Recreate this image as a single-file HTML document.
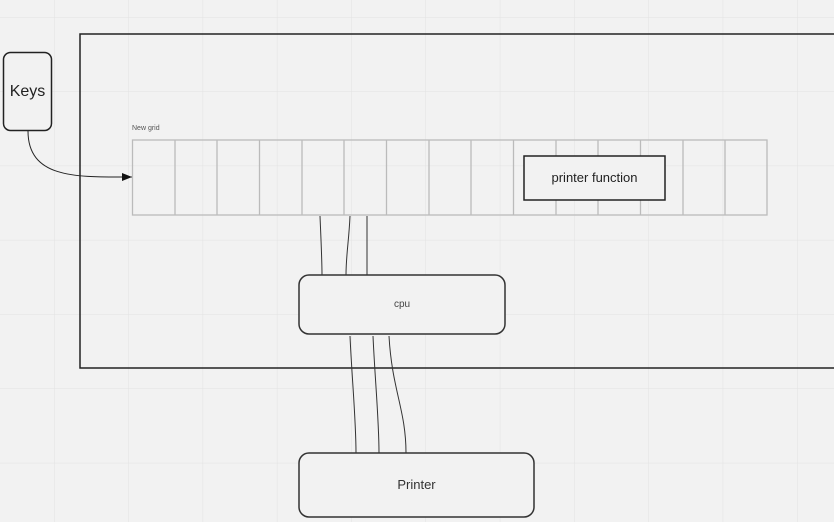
<!DOCTYPE html>
<html><head><style>
body{margin:0;width:834px;height:522px;overflow:hidden;background:#f2f2f2;font-family:"Liberation Sans",sans-serif}
</style></head><body>
<svg width="834" height="522" xmlns="http://www.w3.org/2000/svg" style="position:absolute;left:0;top:0">
<defs>
<pattern id="g" x="54" y="17" width="74.3" height="74.3" patternUnits="userSpaceOnUse">
<path d="M0 0V74.3M0 0H74.3" stroke="#e2e2e2" stroke-width="1" fill="none"/>
</pattern>
<marker id="a" markerWidth="10" markerHeight="8" refX="10" refY="4" orient="auto" markerUnits="userSpaceOnUse"><path d="M0 0L10 4L0 8z" fill="#111"/></marker>
</defs>
<rect width="834" height="522" fill="url(#g)"/>
<rect x="80" y="34" width="760" height="334" fill="none" stroke="#222" stroke-width="1.5"/>
<rect x="3.5" y="52.5" width="48" height="78" rx="7" fill="#f2f2f2" stroke="#222" stroke-width="1.5"/>
<text x="27.5" y="96" font-size="16" text-anchor="middle" fill="#222">Keys</text>
<path d="M28 131 C28 180 80 177 132 177" fill="none" stroke="#222" stroke-width="1" marker-end="url(#a)"/>
<text x="132" y="130" font-size="7" fill="#555">New grid</text>
<g stroke="#bbb" stroke-width="1.3" fill="none">
<rect x="132.5" y="140" width="634.5" height="75"/>
<path d="M175 140V215M217 140V215M259.5 140V215M302 140V215M344 140V215M386.5 140V215M429 140V215M471 140V215M513.5 140V215M556 140V215M598 140V215M640.5 140V215M683 140V215M725 140V215"/>
</g>
<rect x="524" y="156" width="141" height="44" fill="#f2f2f2" stroke="#222" stroke-width="1.5"/>
<text x="594.5" y="182" font-size="13" text-anchor="middle" fill="#222">printer function</text>
<g stroke="#333" stroke-width="1" fill="none">
<path d="M320 216 C321 240 322 260 322 275"/>
<path d="M350 216 C349 240 346 255 346 275"/>
<path d="M367 216V275"/>
<path d="M350 336 C352 380 356 420 356 453"/>
<path d="M373 336 C375 380 379 420 379 453"/>
<path d="M389 336 C392 390 406 410 406 453"/>
</g>
<rect x="299" y="275" width="206" height="59" rx="10" fill="#f2f2f2" stroke="#333" stroke-width="1.5"/>
<text x="402" y="307" font-size="10" text-anchor="middle" fill="#444">cpu</text>
<rect x="299" y="453" width="235" height="64" rx="10" fill="#f2f2f2" stroke="#333" stroke-width="1.5"/>
<text x="416.5" y="489" font-size="13" text-anchor="middle" fill="#333">Printer</text>
</svg>
</body></html>
